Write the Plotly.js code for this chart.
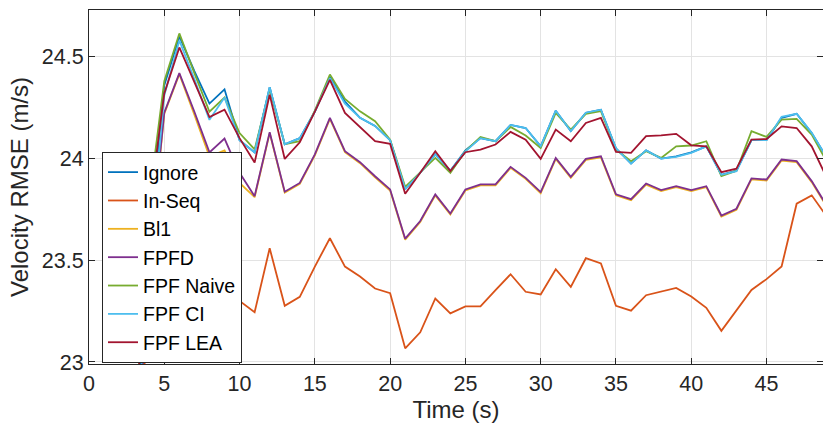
<!DOCTYPE html>
<html>
<head>
<meta charset="utf-8">
<script src="https://cdn.plot.ly/plotly-3.0.1.min.js"></script>
<style>html,body{margin:0;padding:0;background:#fff;}#chart{width:823px;height:434px;}</style>
</head>
<body>
<div id="chart"></div>
<script>
// Time (s)
const time = [3,4,5,6,7,8,9,10,11,12,13,14,15,16,17,18,19,20,21,22,23,24,25,26,27,28,29,30,31,32,33,34,35,36,37,38,39,40,41,42,43,44,45,46,47,48,49];

const ignore = [22.51,23.60,24.36,24.60,24.43,24.27,24.34,24.09,24.03,24.35,24.07,24.10,24.23,24.40,24.28,24.20,24.16,24.09,23.85,23.93,24.02,23.94,24.04,24.10,24.085,24.165,24.15,24.06,24.235,24.135,24.225,24.24,24.05,23.975,24.04,24.00,24.01,24.03,24.06,23.92,23.94,24.09,24.09,24.20,24.22,24.125,24.005];

const inSeq = [22.30,23.30,23.45,23.55,23.45,23.35,23.40,23.30,23.244,23.559,23.276,23.32,23.469,23.608,23.469,23.42,23.361,23.338,23.067,23.146,23.312,23.239,23.273,23.273,23.353,23.431,23.345,23.332,23.456,23.369,23.51,23.484,23.276,23.252,23.328,23.345,23.364,23.322,23.266,23.153,23.255,23.354,23.407,23.469,23.778,23.819,23.715];

const bl1 = [22.28,23.48,24.22,24.415,24.215,24.01,24.04,23.88,23.81,24.125,23.832,23.875,24.015,24.195,24.031,23.977,23.908,23.843,23.601,23.688,23.819,23.725,23.843,23.868,23.868,23.954,23.90,23.83,23.998,23.905,23.993,24.006,23.819,23.795,23.872,23.84,23.859,23.84,23.859,23.715,23.748,23.897,23.892,23.99,23.982,23.884,23.763];

const fpfd = [22.30,23.50,24.225,24.42,24.23,24.03,24.098,23.93,23.815,24.129,23.837,23.88,24.02,24.20,24.036,23.982,23.913,23.848,23.606,23.693,23.824,23.73,23.848,23.873,23.873,23.959,23.905,23.835,24.003,23.91,23.998,24.011,23.824,23.80,23.877,23.845,23.864,23.845,23.864,23.72,23.753,23.902,23.897,23.995,23.987,23.889,23.768];

const fpfNaive = [22.60,23.80,24.38,24.615,24.42,24.23,24.30,24.125,24.045,24.34,24.07,24.085,24.235,24.413,24.293,24.232,24.183,24.093,23.861,23.93,24.003,23.93,24.036,24.106,24.085,24.155,24.113,24.052,24.224,24.142,24.22,24.233,24.044,23.987,24.036,24.003,24.06,24.064,24.085,23.913,23.94,24.134,24.106,24.191,24.195,24.118,23.985];

const fpfCI = [22.50,23.50,24.31,24.58,24.39,24.19,24.30,24.09,24.03,24.35,24.07,24.10,24.23,24.395,24.27,24.20,24.16,24.09,23.85,23.93,24.02,23.94,24.035,24.10,24.085,24.165,24.15,24.06,24.235,24.135,24.225,24.24,24.05,23.975,24.04,24.00,24.008,24.028,24.06,23.92,23.938,24.09,24.09,24.205,24.22,24.126,24.004];

const fpfLEA = [22.60,23.75,24.32,24.546,24.375,24.204,24.24,24.10,23.98,24.314,23.998,24.08,24.23,24.387,24.224,24.155,24.085,24.072,23.827,23.93,24.036,23.938,24.031,24.044,24.069,24.131,24.093,23.998,24.142,24.085,24.175,24.20,24.033,24.028,24.11,24.114,24.121,24.065,24.06,23.933,23.95,24.093,24.096,24.158,24.15,24.06,23.906];

const seriesNames = ["Ignore","In-Seq","Bl1","FPFD","FPF Naive","FPF CI","FPF LEA"];
const seriesData = [ignore, inSeq, bl1, fpfd, fpfNaive, fpfCI, fpfLEA];
const colors = ["#0072BD","#D95319","#EDB120","#7E2F8E","#77AC30","#4DBEEE","#A2142F"];

const xTicks = [0,5,10,15,20,25,30,35,40,45];
const yTicks = [23,23.5,24,24.5];
const yTickText = ["23","23.5","24","24.5"];

const FONT = 'Liberation Sans, Arial, sans-serif';

const traces = seriesNames.map((n,i)=>({
  type:'scatter', mode:'lines', name:n, x:time, y:seriesData[i],
  line:{color:colors[i], width:1.8}
}));

const axisCommon = {
  showline:true, linecolor:'#262626', linewidth:1, mirror:'ticks',
  ticks:'inside', ticklen:6, tickcolor:'#262626', tickwidth:1,
  showgrid:true, gridcolor:'#e3e3e3', gridwidth:1, zeroline:false,
  tickfont:{family:FONT, size:21.5, color:'#262626'}
};

const layout = {
  width:823, height:434,
  margin:{l:89, r:0, t:10, b:70},
  paper_bgcolor:'#ffffff', plot_bgcolor:'#ffffff',
  showlegend:true,
  xaxis:Object.assign({}, axisCommon, {
    range:[0,48.75], tickvals:xTicks,
    title:{text:'Time (s)', font:{family:FONT, size:24, color:'#262626'}, standoff:4}
  }),
  yaxis:Object.assign({}, axisCommon, {
    range:[22.99,24.73], tickvals:yTicks, ticktext:yTickText,
    title:{text:'Velocity RMSE (m/s)', font:{family:FONT, size:24, color:'#262626'}, standoff:6}
  }),
  legend:{
    x:0.0177, y:0.599, xanchor:'left', yanchor:'top',
    bgcolor:'#ffffff', bordercolor:'#262626', borderwidth:1,
    font:{family:FONT, size:19.5, color:'#000000'},
    traceorder:'normal'
  }
};

Plotly.newPlot('chart', traces, layout, {displayModeBar:false, staticPlot:true});
</script>
</body>
</html>
